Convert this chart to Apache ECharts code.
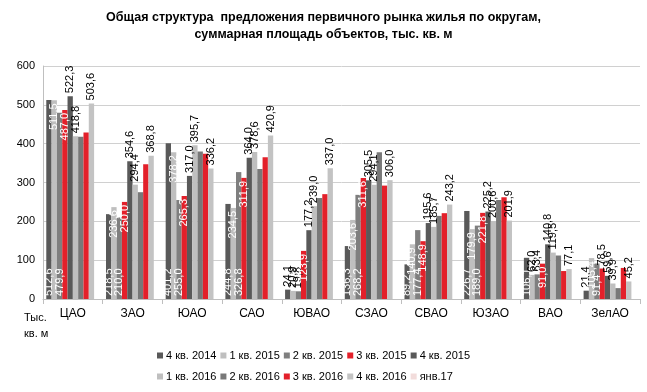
<!DOCTYPE html>
<html>
<head>
<meta charset="utf-8">
<script src="https://cdn.jsdelivr.net/npm/echarts@6/dist/echarts.min.js"></script>
<style>html,body{margin:0;padding:0;background:#fff}#c{width:647px;height:392px}</style>
</head>
<body>
<div id="c"></div>
<script>
const categories = ['ЦАО','ЗАО','ЮАО','САО','ЮВАО','СЗАО','СВАО','ЮЗАО','ВАО','ЗелАО'];
const seriesNames = ['4 кв. 2014','1 кв. 2015','2 кв. 2015','3 кв. 2015','4 кв. 2015','1 кв. 2016','2 кв. 2016','3 кв. 2016','4 кв. 2016','янв.17'];
const q4_2014 = [512.6, 218.5, 401.2, 244.8, 24.1, 136.3, 89.2, 226.7, 106.1, 21.4];
const q1_2015 = [511.5, 236.6, 378.2, 234.5, 20.9, 203.6, 140.9, 179.9, 62.0, 105.4];
const q2_2015 = [479.9, 210.0, 255.0, 326.8, 19.8, 268.2, 177.4, 189.0, 63.4, 91.4];
const q3_2015 = [487.0, 250.0, 265.3, 311.9, 123.9, 311.6, 148.9, 221.8, 91.0, 78.5];
const q4_2015 = [522.3, 354.6, 317.0, 364.0, 177.2, 305.5, 195.6, 225.2, 140.8, 59.6];
const q1_2016 = [418.8, 294.4, 395.7, 378.6, 239.0, 294.1, 185.7, 200.6, 119.5, 39.9];
const q2_2016 = [418.0, 275.0, 380.0, 335.0, 260.0, 378.0, 214.0, 255.0, 112.0, 28.0];
const q3_2016 = [429.0, 347.0, 374.0, 365.0, 270.0, 292.0, 221.0, 262.0, 72.0, 80.0];
const q4_2016 = [503.6, 368.8, 336.2, 420.9, 337.0, 306.0, 243.2, 201.9, 77.1, 45.2];
const jan_2017 = [null, null, null, null, null, null, null, null, null, null];
const yTicks = {min: 0, max: 600, interval: 100};

const allData = [q4_2014, q1_2015, q2_2015, q3_2015, q4_2015, q1_2016, q2_2016, q3_2016, q4_2016, jan_2017];
const colors = ['#595959','#bfbfbf','#7f7f7f','#e3202a','#595959','#bfbfbf','#787878','#e3202a','#c3c3c3','#f2dcdb'];
const labelKinds = ['bottom','insideTop','bottom','insideTop','top','top',null,null,'top',null];

const fmt = v => (v == null ? '' : v.toFixed(1).replace('.', ','));
const font = 'Liberation Sans, Arial, sans-serif';

function labelCfg(kind, v) {
  if (!kind) return {show: false};
  let k = kind;
  if ((k === 'bottom' || k === 'insideTop') && v < 85) k = 'top';
  const base = {show: true, rotate: 90, fontSize: 11, fontFamily: font, verticalAlign: 'middle', formatter: p => fmt(p.value)};
  if (k === 'top') return Object.assign(base, {position: 'top', align: 'left', distance: 3, color: '#000'});
  if (k === 'bottom') return Object.assign(base, {position: 'insideBottom', align: 'left', distance: 3, color: '#fff'});
  return Object.assign(base, {position: 'insideTop', align: 'right', distance: 3, color: '#fff'});
}

const series = seriesNames.map((name, i) => ({
  name: name,
  type: 'bar',
  barGap: '0%',
  barCategoryGap: '11%',
  itemStyle: {color: colors[i]},
  data: allData[i].map(v => ({value: v, label: labelCfg(labelKinds[i], v)})),
  emphasis: {disabled: true},
  animation: false
}));

const chart = echarts.init(document.getElementById('c'), null, {renderer: 'canvas'});
chart.setOption({
  animation: false,
  title: {
    text: 'Общая структура  предложения первичного рынка жилья по округам,\nсуммарная площадь объектов, тыс. кв. м',
    left: 'center', top: 4,
    textStyle: {fontSize: 12.5, fontWeight: 'bold', fontFamily: font, color: '#000', lineHeight: 17, align: 'center'}
  },
  legend: [{
    data: seriesNames.slice(0, 5), left: 152, top: 345, itemWidth: 6, itemHeight: 6, itemGap: 4,
    icon: 'rect', textStyle: {fontSize: 11, fontFamily: font, color: '#000', padding: [0, 0, 0, -2]}
  }, {
    data: seriesNames.slice(5), left: 152, top: 366, itemWidth: 6, itemHeight: 6, itemGap: 4,
    icon: 'rect', textStyle: {fontSize: 11, fontFamily: font, color: '#000', padding: [0, 0, 0, -2]}
  }],
  grid: {left: 43, right: 7, top: 66, bottom: 93, containLabel: false},
  xAxis: {
    type: 'category', data: categories,
    axisLine: {lineStyle: {color: '#bfbfbf'}},
    axisTick: {show: true, lineStyle: {color: '#bfbfbf'}, length: 5},
    axisLabel: {color: '#000', fontSize: 12, fontFamily: font, margin: 9}
  },
  yAxis: {
    type: 'value', min: yTicks.min, max: yTicks.max, interval: yTicks.interval,
    axisLine: {show: true, lineStyle: {color: '#bfbfbf'}},
    axisTick: {show: false},
    splitLine: {lineStyle: {color: '#d0d0d0'}},
    axisLabel: {color: '#000', fontSize: 11, fontFamily: font, margin: 8}
  },
  graphic: [
    {type: 'text', left: 24, top: 312, style: {text: 'Тыс.', fontSize: 11, fontFamily: font, fill: '#000'}},
    {type: 'text', left: 24, top: 328, style: {text: 'кв. м', fontSize: 11, fontFamily: font, fill: '#000'}}
  ],
  series: series
});
</script>
</body>
</html>
